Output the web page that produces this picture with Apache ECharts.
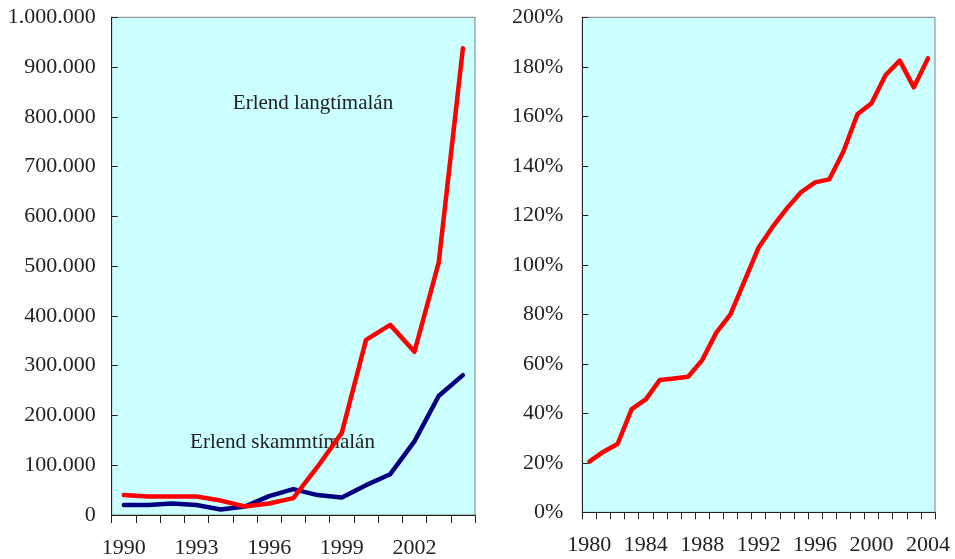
<!DOCTYPE html>
<html>
<head>
<meta charset="utf-8">
<script src="https://cdn.jsdelivr.net/npm/echarts@6/dist/echarts.min.js"></script>
<style>html,body{margin:0;padding:0;background:#fff}#c{width:955px;height:559px}</style>
</head>
<body>
<div id="c"></div>
<script>
// Left chart: foreign debt (millions)
var yearsLeft = ['1990','1991','1992','1993','1994','1995','1996','1997','1998','1999','2000','2001','2002','2003','2004'];
var langtimalan = [40000, 37000, 37000, 37000, 29000, 17000, 23000, 34000, 97000, 165000, 352000, 382000, 328000, 507000, 938000];
var skammtimalan = [20000, 20000, 23000, 20000, 11000, 17000, 38000, 52000, 40000, 35000, 60000, 82000, 148000, 239000, 281000];
// Right chart: percentage
var yearsRight = ['1980','1981','1982','1983','1984','1985','1986','1987','1988','1989','1990','1991','1992','1993','1994','1995','1996','1997','1998','1999','2000','2001','2002','2003','2004'];
var hlutfall = [20.5, 24.5, 27.6, 41.7, 45.6, 53.5, 54.1, 54.8, 61.5, 72.6, 80, 93.5, 107, 115.4, 122.8, 129.3, 133.3, 134.5, 145.7, 160.8, 165.3, 176.7, 182.5, 171.7, 183.4];

var FONT = 'Liberation Serif';
var TXT = '#222';
function dots(v){ return String(v).replace(/\B(?=(\d{3})+(?!\d))/g, '.'); }

var chart = echarts.init(document.getElementById('c'));
chart.setOption({
  animation: false,
  grid: [
    {left: 111.7, top: 17.3, right: 480, bottom: 44, show: true, backgroundColor: '#ccffff', borderColor: '#808080', borderWidth: 1},
    {left: 582.3, top: 17.3, right: 20, bottom: 46.7, show: true, backgroundColor: '#ccffff', borderColor: '#808080', borderWidth: 1}
  ],
  xAxis: [
    {type: 'category', gridIndex: 0, data: yearsLeft, boundaryGap: true,
     axisLine: {lineStyle: {color: '#222', width: 1}},
     axisTick: {show: true, interval: 0, length: 8, lineStyle: {color: '#222'}},
     axisLabel: {interval: 2, margin: 22, fontFamily: FONT, fontSize: 22, color: TXT},
     splitLine: {show: false}},
    {type: 'category', gridIndex: 1, data: yearsRight, boundaryGap: true,
     axisLine: {lineStyle: {color: '#222', width: 1}},
     axisTick: {show: true, interval: 0, length: 7, lineStyle: {color: '#222'}},
     axisLabel: {interval: 3, margin: 22, fontFamily: FONT, fontSize: 22, color: TXT},
     splitLine: {show: false}}
  ],
  yAxis: [
    {type: 'value', gridIndex: 0, min: 0, max: 1000000, interval: 100000,
     axisLine: {show: true, lineStyle: {color: '#222', width: 1}},
     axisTick: {show: true, inside: true, length: 6, lineStyle: {color: '#222'}},
     axisLabel: {margin: 16, fontFamily: FONT, fontSize: 22, color: TXT, formatter: dots},
     splitLine: {show: false}},
    {type: 'value', gridIndex: 1, min: 0, max: 200, interval: 20,
     axisLine: {show: true, lineStyle: {color: '#222', width: 1}},
     axisTick: {show: true, inside: true, length: 6, lineStyle: {color: '#222'}},
     axisLabel: {margin: 19, fontFamily: FONT, fontSize: 22, color: TXT, formatter: '{value}%'},
     splitLine: {show: false}}
  ],
  series: [
    {name: 'Erlend langtímalán', type: 'line', xAxisIndex: 0, yAxisIndex: 0, data: langtimalan,
     showSymbol: false, lineStyle: {color: '#ff0000', width: 4.5, cap: 'round', join: 'round'}, z: 3},
    {name: 'Erlend skammtímalán', type: 'line', xAxisIndex: 0, yAxisIndex: 0, data: skammtimalan,
     showSymbol: false, lineStyle: {color: '#000080', width: 4.5, cap: 'round', join: 'round'}, z: 2},
    {name: 'Hlutfall', type: 'line', xAxisIndex: 1, yAxisIndex: 1, data: hlutfall,
     showSymbol: false, lineStyle: {color: '#ff0000', width: 4.5, cap: 'round', join: 'round'}}
  ],
  graphic: [
    {type: 'text', x: 313, y: 103, style: {text: 'Erlend langtímalán', font: '21px "Liberation Serif"', fill: TXT, align: 'center', verticalAlign: 'middle'}},
    {type: 'text', x: 282.5, y: 442.5, style: {text: 'Erlend skammtímalán', font: '21px "Liberation Serif"', fill: TXT, align: 'center', verticalAlign: 'middle'}}
  ]
});
</script>
</body>
</html>
